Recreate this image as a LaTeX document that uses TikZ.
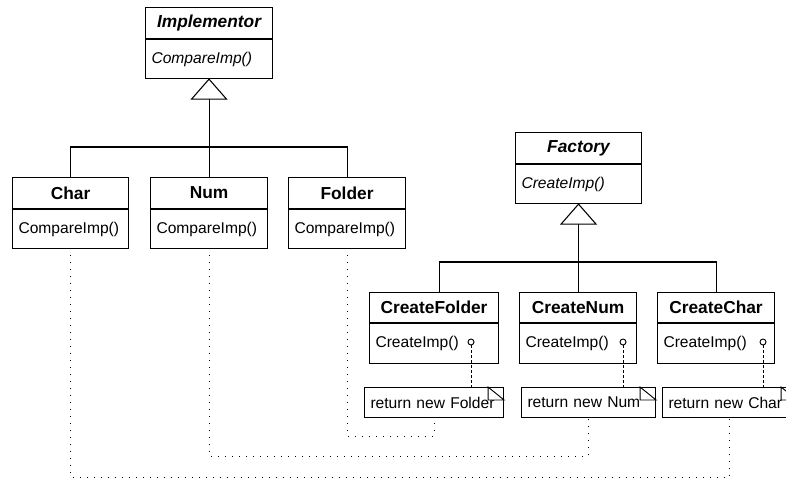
\documentclass[tikz,border=0pt]{standalone}
\usepackage{fontspec}
\setmainfont{Liberation Sans}
\usetikzlibrary{calc}
\newdimen\pxu \pxu=0.75pt

\tikzset{
  umlbox/.style={draw, line width=0.8pt, inner sep=0pt, fill=white},
  classname/.style={umlbox, anchor=north west, minimum height=31\pxu,
    font=\fontsize{13}{15}\selectfont\bfseries},
  abstractname/.style={classname, font=\fontsize{13}{15}\selectfont\bfseries\itshape},
  members/.style={umlbox, anchor=north, align=left, inner xsep=6\pxu,
    minimum height=39\pxu, font=\fontsize{11.7}{14}\selectfont},
  abstractmembers/.style={members, font=\fontsize{11.7}{14}\selectfont\itshape},
  notebox/.style={umlbox, anchor=north west, align=left, inner xsep=6\pxu,
    minimum height=30\pxu, font=\fontsize{11.7}{14}\selectfont},
  fold/.style={draw, fill=white, line width=0.7pt},
  hook/.style={circle, draw, fill=white, inner sep=0pt, minimum size=6\pxu, line width=0.7pt},
  anchorline/.style={line width=0.6pt, dash pattern=on 2.25pt off 1.5pt},
  tracer/.style={line width=0.75pt, dash pattern=on 0.75pt off 4.5pt},
  gen/.style={line width=0.8pt}
}

\begin{document}
\begin{tikzpicture}[x=0.75pt, y=-0.75pt]
\useasboundingbox (0,0) rectangle (786,479);

% ---- implementor hierarchy ----
\node[abstractname, minimum width=127\pxu] (implT) at (145,7) {Implementor};
\node[abstractmembers, text width=115\pxu] (implB) at (implT.south) {CompareImp()};

\node[classname, minimum width=116\pxu] (charT) at (12,177) {Char};
\node[members, text width=104\pxu] (charB) at (charT.south) {CompareImp()};

\node[classname, minimum width=117\pxu] (numT) at (150,177) {Num};
\node[members, text width=105\pxu] (numB) at (numT.south) {CompareImp()};

\node[classname, minimum width=117\pxu] (folderT) at (288,177) {Folder};
\node[members, text width=105\pxu] (folderB) at (folderT.south) {CompareImp()};

\coordinate (implBase) at ($(implB.south)+(0,20)$);
\coordinate (implBar) at ($(charT.north)+(0,-30)$);
\draw[gen] (implB.south) -- ($(implB.south)+(-17.5,20)$) -- ($(implB.south)+(17.5,20)$) -- cycle;
\draw[gen] (implBase) -- (implBase |- implBar);
\draw[gen] (charT.north) -- (implBar) -- (implBar -| folderT.north) -- (folderT.north);
\draw[gen] (numT.north) -- (numT.north |- implBar);

% ---- factory hierarchy ----
\node[abstractname, minimum width=126\pxu] (facT) at (515,132) {Factory};
\node[abstractmembers, text width=114\pxu] (facB) at (facT.south) {CreateImp()};

\node[classname, minimum width=129\pxu, minimum height=30\pxu] (cfT) at (369,292) {CreateFolder};
\node[members, text width=117\pxu, minimum height=40\pxu] (cfB) at (cfT.south) {CreateImp()};

\node[classname, minimum width=117\pxu, minimum height=30\pxu] (cnT) at (519,292) {CreateNum};
\node[members, text width=105\pxu, minimum height=40\pxu] (cnB) at (cnT.south) {CreateImp()};

\node[classname, minimum width=117\pxu, minimum height=30\pxu] (ccT) at (657,292) {CreateChar};
\node[members, text width=105\pxu, minimum height=40\pxu] (ccB) at (ccT.south) {CreateImp()};

\coordinate (facBase) at ($(facB.south)+(0,20)$);
\coordinate (facBar) at ($(cfT.north)+(5,-30)$);
\coordinate (cfTop) at ($(cfT.north)+(5,0)$);
\draw[gen] (facB.south) -- ($(facB.south)+(-17.5,20)$) -- ($(facB.south)+(17.5,20)$) -- cycle;
\draw[gen] (facBase) -- (facBase |- facBar);
\draw[gen] (cfTop) -- (facBar) -- (facBar -| ccT.north) -- (ccT.north);
\draw[gen] (cnT.north) -- (cnT.north |- facBar);

% ---- implementation notes ----
\node[notebox, minimum width=139\pxu, text width=127\pxu] (nf) at (364,387) {return new Folder};
\node[notebox, minimum width=134\pxu, text width=122\pxu] (nn) at (521,387) {return new Num};
\node[notebox, minimum width=134\pxu, text width=122\pxu] (nc) at (662,387) {return new Char};

\foreach \n in {nf,nn,nc}{
  \draw[fold] ($(\n.north east)+(-16,0)$) -- ($(\n.north east)+(-16,13)$)
    -- ($(\n.north east)+(0,13)$) -- cycle;
}

\node[hook] (cfHook) at (471,342) {};
\node[hook] (cnHook) at (623,342) {};
\node[hook] (ccHook) at (763,342) {};
\draw[anchorline] (cfHook.south) -- (cfHook.south |- nf.north);
\draw[anchorline] (cnHook.south) -- (cnHook.south |- nn.north);
\draw[anchorline] (ccHook.south) -- (ccHook.south |- nc.north);

% ---- traces from products to their creators ----
\coordinate (folderLevel) at (0,436);
\coordinate (numLevel) at (0,456);
\coordinate (charLevel) at (0,477);
\draw[tracer] ($(folderB.south)+(0,6)$) -- (folderB.south |- folderLevel) -| ($(nf.south)+(0,1)$);
\draw[tracer] ($(numB.south)+(0,6)$) -- (numB.south |- numLevel) -| ($(nn.south)+(0,1)$);
\draw[tracer] ($(charB.south)+(0,6)$) -- (charB.south |- charLevel) -| ($(nc.south)+(0,1)$);
\end{tikzpicture}
\end{document}
